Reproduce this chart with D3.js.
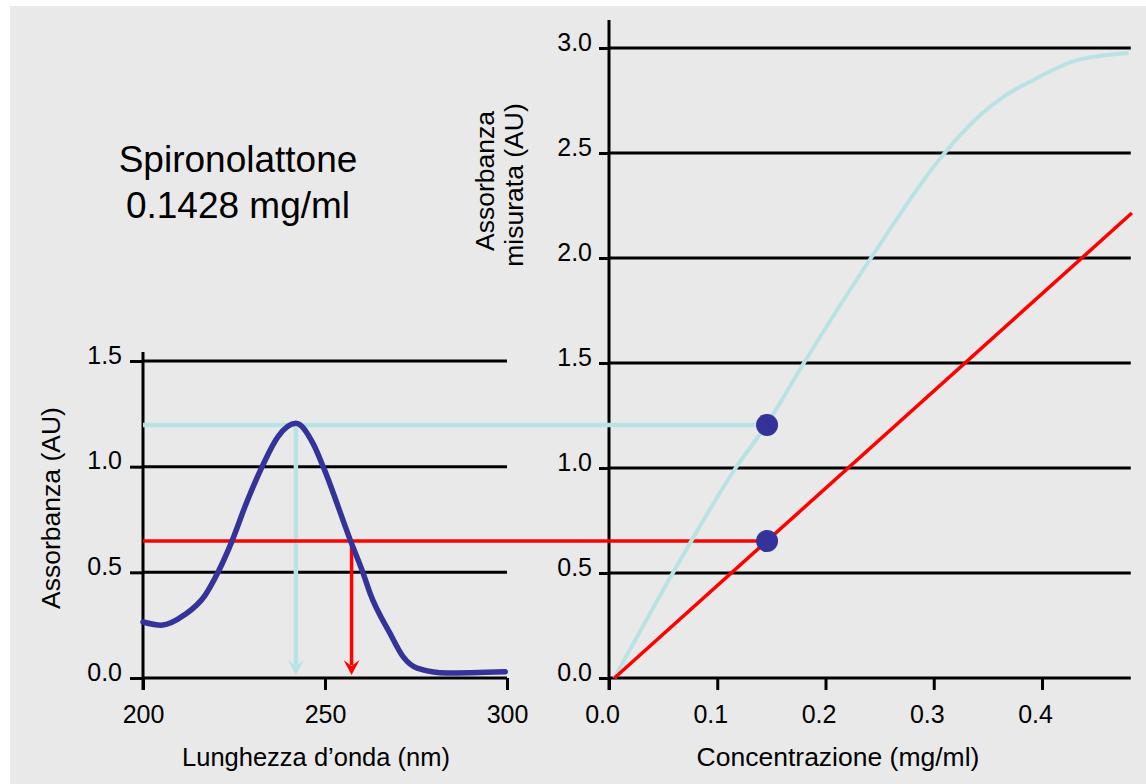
<!DOCTYPE html>
<html>
<head>
<meta charset="utf-8">
<script src="https://cdn.jsdelivr.net/npm/d3@7"></script>
<style>
  body { margin: 0; background: #fff; }
  text { font-family: "Liberation Sans", Arial, sans-serif; fill: #000; }
</style>
</head>
<body>
<div id="chart"></div>
<script>
// absorption spectrum (left panel)
var wavelength = [200, 205, 211.5, 217, 220.6, 224.5, 228, 233, 237, 242, 246.7, 249.5, 257, 260.4, 262.4, 267.9, 271.5, 275.3, 283.5, 299.5];
var absorbance = [0.265, 0.25, 0.30, 0.39, 0.50, 0.65, 0.81, 1.01, 1.14, 1.205, 1.11, 1.0, 0.65, 0.50, 0.40, 0.21, 0.10, 0.047, 0.024, 0.03];

// calibration curves (right panel)
var concMeasured = [0.005, 0.059, 0.117, 0.146, 0.18, 0.242, 0.31, 0.345, 0.365, 0.393, 0.431, 0.48];
var absMeasured  = [0, 0.5, 1.0, 1.21, 1.5, 2.0, 2.5, 2.69, 2.77, 2.85, 2.94, 2.976];
var concLinear = [0.005, 0.483];
var absLinear  = [0, 2.214];

// sample
var sampleConc = 0.146;
var sampleAbs = [1.205, 0.652];        // measured, linear
var sampleWave = [242, 257.3];         // where each level meets the spectrum
var sampleColors = ["#b9e2e5", "#ff0000"];

// ticks
var waveTicks = [200, 250, 300];
var absTicksL = [0, 0.5, 1.0, 1.5];
var concTicks = [0, 0.1, 0.2, 0.3, 0.4];
var absTicksR = [0, 0.5, 1.0, 1.5, 2.0, 2.5, 3.0];

var W = 1146, H = 784;
var svg = d3.select("#chart").append("svg")
  .attr("width", W).attr("height", H);

svg.append("rect")
  .attr("x", 10).attr("y", 6)
  .attr("width", W - 10).attr("height", H - 6)
  .attr("fill", "#e9e9e9");

// scales
var xL = d3.scaleLinear().domain([200, 300]).range([143, 507]);
var yL = d3.scaleLinear().domain([0, 1.5]).range([678, 361]);
var xR = d3.scaleLinear().domain([0, 0.4]).range([609, 1042]);
var yR = d3.scaleLinear().domain([0, 3]).range([678, 48]);
var gridEnd = 0.482;

var fs = "25px";

// ---- left panel ----
svg.append("g").selectAll("line")
  .data(absTicksL).enter().append("line")
  .attr("x1", xL(200)).attr("x2", xL(300))
  .attr("y1", function(d) { return yL(d); })
  .attr("y2", function(d) { return yL(d); })
  .attr("stroke", "#000").attr("stroke-width", 3);

var axL = svg.append("g")
  .attr("transform", "translate(" + xL(200) + ",0)")
  .call(d3.axisLeft(yL).tickValues(absTicksL).tickFormat(d3.format(".1f")).tickSize(13).tickPadding(8));
axL.select(".domain").remove();
axL.selectAll("line").attr("stroke-width", 3);
axL.selectAll("text").attr("dy", "0.08em").style("font-size", fs).style("font-family", "Liberation Sans, Arial");

var axLb = svg.append("g")
  .attr("transform", "translate(0," + yL(0) + ")")
  .call(d3.axisBottom(xL).tickValues(waveTicks).tickSize(12).tickPadding(15));
axLb.select(".domain").remove();
axLb.selectAll("line").attr("stroke-width", 3);
axLb.selectAll("text").style("font-size", fs).style("font-family", "Liberation Sans, Arial");

svg.append("line")
  .attr("x1", xL(200)).attr("x2", xL(200))
  .attr("y1", yL(1.543)).attr("y2", yL(0) + 12)
  .attr("stroke", "#000").attr("stroke-width", 3);

// ---- right panel ----
svg.append("g").selectAll("line")
  .data(absTicksR).enter().append("line")
  .attr("x1", xR(0)).attr("x2", xR(gridEnd))
  .attr("y1", function(d) { return yR(d); })
  .attr("y2", function(d) { return yR(d); })
  .attr("stroke", "#000").attr("stroke-width", 3);

var axR = svg.append("g")
  .attr("transform", "translate(" + xR(0) + ",0)")
  .call(d3.axisLeft(yR).tickValues(absTicksR).tickFormat(d3.format(".1f")).tickSize(10).tickPadding(7));
axR.select(".domain").remove();
axR.selectAll("line").attr("stroke-width", 3);
axR.selectAll("text").attr("dy", "0.08em").style("font-size", fs).style("font-family", "Liberation Sans, Arial");

var axRb = svg.append("g")
  .attr("transform", "translate(0," + yR(0) + ")")
  .call(d3.axisBottom(xR).tickValues(concTicks).tickFormat(d3.format(".1f")).tickSize(12).tickPadding(15));
axRb.select(".domain").remove();
axRb.selectAll("line").attr("stroke-width", 3);
axRb.selectAll("text").attr("dx", -7).style("font-size", fs).style("font-family", "Liberation Sans, Arial");

svg.append("line")
  .attr("x1", xR(0)).attr("x2", xR(0))
  .attr("y1", yR(3.133)).attr("y2", yR(0) + 12)
  .attr("stroke", "#000").attr("stroke-width", 3);

// ---- connecting lines and arrows ----
sampleAbs.forEach(function(a, i) {
  var c = sampleColors[i];
  var sw = i === 0 ? 4.5 : 3.5;
  svg.append("line")
    .attr("x1", xL(200)).attr("x2", xR(sampleConc))
    .attr("y1", yR(a)).attr("y2", yR(a))
    .attr("stroke", c).attr("stroke-width", sw);
  var vx = xL(sampleWave[i]);
  var tip = yL(0) - 3;
  svg.append("line")
    .attr("x1", vx).attr("x2", vx)
    .attr("y1", yR(a)).attr("y2", tip - 10)
    .attr("stroke", c).attr("stroke-width", sw);
  svg.append("path")
    .attr("d", "M" + (vx - 8) + "," + (tip - 15) + "L" + vx + "," + (tip - 9) +
               "L" + (vx + 8) + "," + (tip - 15) + "L" + vx + "," + tip + "Z")
    .attr("fill", c);
});

// spectrum
var spec = d3.line()
  .x(function(d, i) { return xL(wavelength[i]); })
  .y(function(d) { return yL(d); })
  .curve(d3.curveMonotoneX);
svg.append("path")
  .attr("d", spec(absorbance))
  .attr("fill", "none").attr("stroke", "#333399")
  .attr("stroke-width", 5.5).attr("stroke-linejoin", "round").attr("stroke-linecap", "round");

// calibration curves
var measLine = d3.line()
  .x(function(d, i) { return xR(concMeasured[i]); })
  .y(function(d) { return yR(d); })
  .curve(d3.curveMonotoneX);
svg.append("path")
  .attr("d", measLine(absMeasured))
  .attr("fill", "none").attr("stroke", sampleColors[0]).attr("stroke-width", 4);

var linLine = d3.line()
  .x(function(d, i) { return xR(concLinear[i]); })
  .y(function(d) { return yR(d); });
svg.append("path")
  .attr("d", linLine(absLinear))
  .attr("fill", "none").attr("stroke", sampleColors[1]).attr("stroke-width", 3.5);

svg.append("g").selectAll("circle")
  .data(sampleAbs).enter().append("circle")
  .attr("cx", xR(sampleConc))
  .attr("cy", function(d) { return yR(d); })
  .attr("r", 11)
  .attr("fill", "#333399");

// ---- texts ----
svg.append("text")
  .attr("x", 238).attr("y", 172)
  .style("text-anchor", "middle").style("font-size", "37px")
  .text("Spironolattone");
svg.append("text")
  .attr("x", 238).attr("y", 218)
  .style("text-anchor", "middle").style("font-size", "37px")
  .text("0.1428 mg/ml");

svg.append("text")
  .attr("transform", "translate(60,508)rotate(-90)")
  .style("text-anchor", "middle").style("font-size", "26.5px")
  .text("Assorbanza (AU)");

svg.append("text")
  .attr("transform", "translate(494,181)rotate(-90)")
  .style("text-anchor", "middle").style("font-size", "26.5px")
  .text("Assorbanza");
svg.append("text")
  .attr("transform", "translate(523,185)rotate(-90)")
  .style("text-anchor", "middle").style("font-size", "26.5px")
  .text("misurata (AU)");

svg.append("text")
  .attr("x", 316).attr("y", 766)
  .style("text-anchor", "middle").style("font-size", "25.5px")
  .text("Lunghezza d\u2019onda (nm)");
svg.append("text")
  .attr("x", 838).attr("y", 766)
  .style("text-anchor", "middle").style("font-size", "26.5px")
  .text("Concentrazione (mg/ml)");
</script>
</body>
</html>
